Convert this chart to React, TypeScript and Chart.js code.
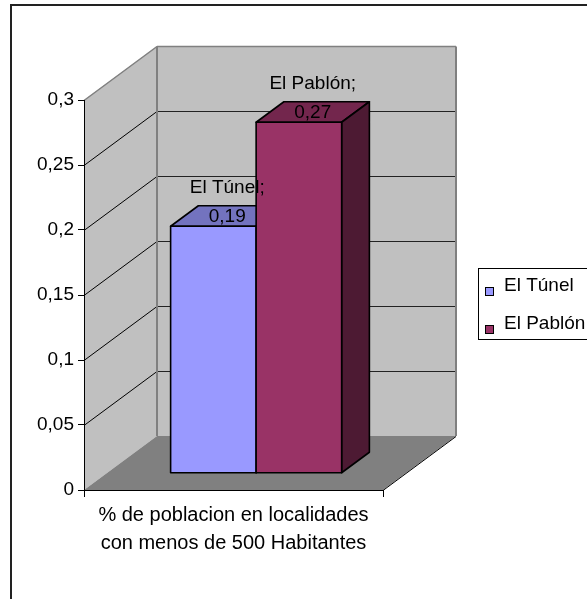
import React, { useEffect, useRef } from "react";
import { Chart, registerables } from "chart.js";

Chart.register(...registerables);

// ---- data ----
const categories = [["% de poblacion en localidades", "con menos de 500 Habitantes"]];
const seriesNames = ["El Túnel", "El Pablón"];
const tunelValues = [0.19];
const pablonValues = [0.27];
const yTicks = [0, 0.05, 0.1, 0.15, 0.2, 0.25, 0.3];

// ---- styles ----
const frontColors = ["#9999FF", "#993366"];
const topColors = ["#7373BF", "#73264D"];
const sideColors = ["#4D4D80", "#4D1A33"];
const FONT = "'Liberation Sans', Arial, sans-serif";
const FS = 19;
const DX = 73;
const DY = -54;
const FRONT = 0.31;
const DEPTH = 0.38;

const fmt = (v: number) => String(Number(v.toFixed(2))).replace(".", ",");

function poly(ctx: CanvasRenderingContext2D, pts: number[][], fill?: string, stroke?: string, lw = 1) {
  ctx.beginPath();
  pts.forEach((p, i) => (i === 0 ? ctx.moveTo(p[0], p[1]) : ctx.lineTo(p[0], p[1])));
  ctx.closePath();
  if (fill) {
    ctx.fillStyle = fill;
    ctx.fill();
  }
  if (stroke) {
    ctx.strokeStyle = stroke;
    ctx.lineWidth = lw;
    ctx.stroke();
  }
}

function line(ctx: CanvasRenderingContext2D, x1: number, y1: number, x2: number, y2: number, color: string, lw = 1) {
  ctx.beginPath();
  ctx.moveTo(x1, y1);
  ctx.lineTo(x2, y2);
  ctx.strokeStyle = color;
  ctx.lineWidth = lw;
  ctx.stroke();
}

const threeD = {
  id: "threeD",
  beforeDraw(chart: any) {
    const ctx: CanvasRenderingContext2D = chart.ctx;
    const { left, right } = chart.chartArea;
    const ys = chart.scales.y;
    const y0 = ys.getPixelForValue(ys.min);
    const yM = ys.getPixelForValue(ys.max);
    ctx.save();
    ctx.fillStyle = "#ffffff";
    ctx.fillRect(0, 0, chart.width, chart.height);
    // side wall
    poly(ctx, [[left, y0], [left, yM], [left + DX, yM + DY], [left + DX, y0 + DY]], "#C0C0C0");
    // back wall
    poly(ctx, [[left + DX, yM + DY], [right + DX, yM + DY], [right + DX, y0 + DY], [left + DX, y0 + DY]], "#C0C0C0");
    // floor
    poly(ctx, [[left, y0], [right, y0], [right + DX, y0 + DY], [left + DX, y0 + DY]], "#808080");
    // gridlines
    yTicks.forEach((v) => {
      if (v <= ys.min || v >= ys.max) return;
      const y = Math.round(ys.getPixelForValue(v)) + 0.5;
      line(ctx, left, y, left + DX, y + DY, "#000000", 1);
      line(ctx, left + DX, y + DY, right + DX, y + DY, "#222222", 1);
    });
    // wall edges
    const yt = Math.round(yM) + 0.5;
    line(ctx, left, yt, left + DX, yt + DY, "#808080", 1.5);
    line(ctx, left + DX, yt + DY, right + DX, yt + DY, "#808080", 1.5);
    line(ctx, left + DX, yt + DY, left + DX, y0 + DY, "#808080", 2);
    line(ctx, right + DX, yt + DY, right + DX, y0 + DY, "#808080", 2);
    line(ctx, right, Math.round(y0) + 0.5, right + DX, Math.round(y0) + 0.5 + DY, "#000000", 1);
    ctx.restore();
  },
  beforeDatasetsDraw(chart: any) {
    const ctx: CanvasRenderingContext2D = chart.ctx;
    const ox = DX * FRONT;
    const oy = DY * FRONT;
    const bx = DX * DEPTH;
    const by = DY * DEPTH;
    ctx.save();
    const tops: any[] = [];
    chart.data.datasets.forEach((ds: any, i: number) => {
      const meta = chart.getDatasetMeta(i);
      meta.data.forEach((el: any, j: number) => {
        const L = el.x - el.width / 2 + ox;
        const R = el.x + el.width / 2 + ox;
        const T = el.y + oy;
        const B = el.base + oy;
        ctx.lineJoin = "round";
        poly(ctx, [[L, T], [R, T], [R + bx, T + by], [L + bx, T + by]], topColors[i], "#000", 1.6);
        poly(ctx, [[R, T], [R + bx, T + by], [R + bx, B + by], [R, B]], sideColors[i], "#000", 1.6);
        poly(ctx, [[L, T], [R, T], [R, B], [L, B]], frontColors[i], "#000", 1.6);
        tops.push({ cx: (L + R) / 2 + bx / 2, cy: T + by / 2, name: ds.label, value: ds.data[j] });
      });
    });
    ctx.fillStyle = "#000";
    ctx.font = `${FS}px ${FONT}`;
    ctx.textAlign = "center";
    ctx.textBaseline = "middle";
    tops.forEach((t) => {
      ctx.fillText(fmt(t.value), t.cx, t.cy + 1);
      ctx.fillText(`${t.name};`, t.cx, t.cy - 28);
    });
    ctx.restore();
    return false;
  },
  afterDraw(chart: any) {
    const ctx: CanvasRenderingContext2D = chart.ctx;
    ctx.save();
    // legend
    ctx.strokeStyle = "#000";
    ctx.lineWidth = 1;
    ctx.strokeRect(478.5, 268.5, 200, 71);
    ctx.font = `${FS}px ${FONT}`;
    ctx.textAlign = "left";
    ctx.textBaseline = "middle";
    chart.data.datasets.forEach((ds: any, i: number) => {
      const cy = 285 + i * 38;
      ctx.fillStyle = frontColors[i];
      ctx.fillRect(485.5, cy + 2.5, 8, 8);
      ctx.strokeRect(485.5, cy + 2.5, 8, 8);
      ctx.fillStyle = "#000";
      ctx.fillText(ds.label, 504, cy + 1);
    });
    // outer border
    ctx.strokeStyle = "#222";
    ctx.lineWidth = 2;
    ctx.beginPath();
    ctx.moveTo(11, chart.height + 5);
    ctx.lineTo(11, 5);
    ctx.lineTo(chart.width + 5, 5);
    ctx.stroke();
    ctx.restore();
  },
};

export default function App() {
  const ref = useRef<HTMLCanvasElement | null>(null);
  useEffect(() => {
    document.body.style.margin = "0";
    const canvas = ref.current!;
    const chart = new Chart(canvas, {
      type: "bar",
      data: {
        labels: categories as any,
        datasets: [
          { label: seriesNames[0], data: tunelValues, backgroundColor: frontColors[0] },
          { label: seriesNames[1], data: pablonValues, backgroundColor: frontColors[1] },
        ],
      },
      options: {
        responsive: false,
        animation: false,
        devicePixelRatio: 1,
        layout: { padding: { top: 100, right: 204, left: 0, bottom: 0 } },
        datasets: { bar: { categoryPercentage: 0.572, barPercentage: 1 } },
        plugins: { legend: { display: false }, tooltip: { enabled: false } },
        scales: {
          x: {
            type: "category",
            grid: { drawOnChartArea: false, drawTicks: true, tickLength: 7, color: "#000", offset: true },
            border: { display: true, color: "#000", width: 1 },
            ticks: {
              color: "#000",
              font: { family: FONT, size: 20, lineHeight: 28 / 20 },
              padding: 4,
              maxRotation: 0,
              autoSkip: false,
            },
            afterFit: (s: any) => {
              s.height = 109;
            },
          },
          y: {
            type: "linear",
            min: 0,
            max: 0.3,
            grid: { drawOnChartArea: false, drawTicks: true, tickLength: 6, color: "#000" },
            border: { display: true, color: "#000", width: 1 },
            ticks: {
              color: "#000",
              font: { family: FONT, size: FS },
              padding: 4,
              callback: (v: any) => fmt(Number(v)),
            },
            afterBuildTicks: (s: any) => {
              s.ticks = yTicks.map((v) => ({ value: v }));
            },
            afterFit: (s: any) => {
              s.width = 84;
            },
          },
        },
      },
      plugins: [threeD],
    });
    return () => chart.destroy();
  }, []);
  return <canvas ref={ref} width={587} height={599} style={{ display: "block", width: 587, height: 599 }} />;
}
